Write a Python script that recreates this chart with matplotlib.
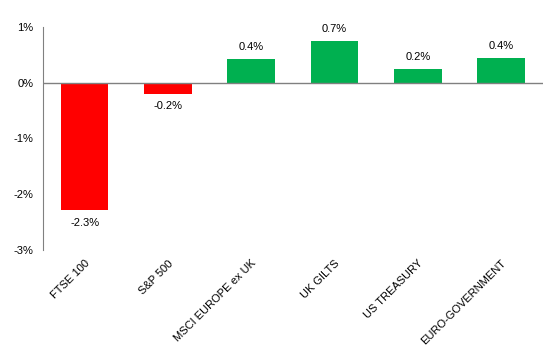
import matplotlib

matplotlib.use("Agg")
import matplotlib.pyplot as plt
from matplotlib.ticker import FuncFormatter

categories = ["FTSE 100", "S&P 500", "MSCI EUROPE ex UK", "UK GILTS", "US TREASURY", "EURO-GOVERNMENT"]
values = [-2.29, -0.20, 0.42, 0.74, 0.24, 0.44]
labels = ["-2.3%", "-0.2%", "0.4%", "0.7%", "0.2%", "0.4%"]

plt.rcParams["font.family"] = ["Liberation Sans", "DejaVu Sans"]

fig = plt.figure(figsize=(5.51, 3.55), dpi=100)
ax = fig.add_axes([0.078, 0.296, 0.907, 0.628])

colors = ["#FF0000" if v < 0 else "#00B050" for v in values]
x = list(range(len(categories)))
ax.bar(x, values, width=0.57, color=colors, zorder=2)
ax.axhline(0, color="#808080", linewidth=1.0, zorder=3)

for xi, v, lab in zip(x, values, labels):
    off = 0.22 if v >= 0 else -0.22
    ax.text(xi, v + off, lab, ha="center", va="center", fontsize=8)

ax.set_xlim(-0.5, len(categories) - 0.5)
ax.set_ylim(-3, 1)
ax.set_yticks([-3, -2, -1, 0, 1])
ax.yaxis.set_major_formatter(FuncFormatter(lambda v, _: f"{v:.0f}%"))
ax.set_xticks(x)
ax.set_xticklabels(categories, rotation=45, ha="right", rotation_mode="anchor", fontsize=8)
ax.tick_params(axis="x", length=0, pad=6)
ax.tick_params(axis="y", length=0, pad=7, labelsize=8)

for side in ["top", "right", "bottom"]:
    ax.spines[side].set_visible(False)
ax.spines["left"].set_color("#808080")

fig.savefig("out.png", dpi=100)
